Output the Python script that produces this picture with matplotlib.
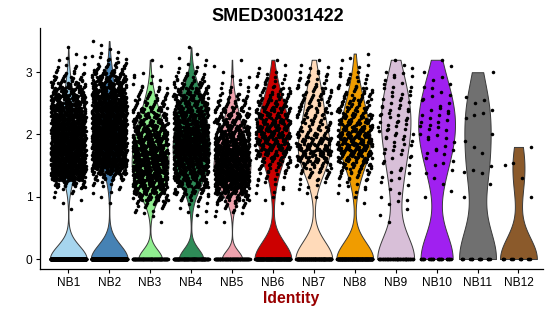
import numpy as np
import matplotlib
matplotlib.use("Agg")
import matplotlib.pyplot as plt

plt.rcParams['font.family'] = ['Liberation Sans', 'DejaVu Sans']

# ---- data ----
title = "SMED30031422"
groups = ["NB1", "NB2", "NB3", "NB4", "NB5", "NB6", "NB7", "NB8", "NB9", "NB10", "NB11", "NB12"]
colors = ["#A6D5EE", "#4682B4", "#90EE90", "#2E8B57", "#EFA2AE", "#CC0000",
          "#FFDAB9", "#F09C00", "#D8BFD8", "#A020F0", "#707070", "#8B5A2B"]
# number of cells with zero expression per group
zero_counts = [780, 715, 110, 130, 100, 200, 160, 200, 55, 27, 15, 12]
# nonzero expression histogram, bin centres 0.5, 0.6, ..., 3.6 (width 0.1)
bin_centers = [round(0.5 + 0.1 * i, 1) for i in range(32)]
hist_NB1 = [0,0,0,1,1,2,5,20,45,62,72,75,72,65,58,55,52,51,49,45,42,39,32,26,16,8,5,3,1,1,0,0]
hist_NB2 = [0,0,0,0,1,1,3,6,16,36,55,65,68,68,65,62,58,57,55,52,51,47,42,38,31,23,13,6,3,2,1,0]
hist_NB3 = [0,1,2,5,13,23,32,39,42,44,45,45,44,42,40,38,34,30,26,21,16,12,8,5,3,2,1,1,0,0,0,0]
hist_NB4 = [0,1,1,3,5,10,20,29,36,40,44,47,49,49,49,47,45,43,39,36,32,29,23,18,12,6,4,2,1,1,0,0]
hist_NB5 = [0,1,2,5,12,23,36,47,53,57,57,55,52,47,42,38,32,27,22,18,13,9,6,4,3,1,1,1,0,0,0,0]
hist_NB6 = [0,0,0,0,1,2,3,4,6,9,13,17,22,26,28,30,30,28,25,21,17,14,11,8,6,4,2,1,0,0,0,0]
hist_NB7 = [0,0,0,0,0,1,2,4,7,12,18,24,27,26,22,18,15,14,13,13,12,11,10,9,7,5,3,1,0,0,0,0]
hist_NB8 = [0,0,0,0,1,2,3,5,8,12,17,22,26,29,30,29,27,24,21,18,15,12,10,8,6,4,3,2,1,0,0,0]
hist_NB9 = [0,1,1,1,2,2,2,2,3,3,3,3,4,4,5,5,6,6,6,5,5,4,4,4,3,3,2,1,0,0,0,0]
hist_NB10 = [0,0,0,0,0,1,1,1,1,2,2,2,3,3,3,3,4,4,4,3,3,3,2,2,2,1,1,1,0,0,0,0]
hist_NB11 = [0,0,0,0,0,1,0,1,0,3,1,0,1,1,1,1,0,0,3,1,2,1,0,0,0,1,0,0,0,0,0,0]
hist_NB12 = [0,0,0,0,0,1,0,0,1,0,2,0,0,1,0,0,0,0,0,0,0,0,0,0,0,0,0,0,0,0,0,0]
hists = [hist_NB1, hist_NB2, hist_NB3, hist_NB4, hist_NB5, hist_NB6,
         hist_NB7, hist_NB8, hist_NB9, hist_NB10, hist_NB11, hist_NB12]
yticks = [0, 1, 2, 3]
xlabel = "Identity"

# ---- helpers ----
G = 1.32471795724474602596
A1, A2 = 1.0 / G, 1.0 / (G * G)

def r2(n, offset=0):
    i = np.arange(n) + offset
    return (0.5 + A1 * i) % 1.0, (0.5 + A2 * i) % 1.0

def expand(hist, n0):
    vals = [np.zeros(n0)]
    for c, k in zip(bin_centers, hist):
        if k == 0:
            continue
        if k == 1:
            vals.append(np.array([c]))
        else:
            _, u = r2(k, offset=int(c * 100))
            vals.append(c - 0.05 + 0.1 * u)
    return np.concatenate(vals)

def nrd0(kde):
    d = np.ravel(kde.dataset)
    n = d.size
    sd = d.std(ddof=1)
    q75, q25 = np.percentile(d, [75, 25])
    iqr = (q75 - q25) / 1.34
    lo = min(sd, iqr) if iqr > 0 else sd
    return 0.9 * lo * n ** -0.2 / sd

data = [expand(h, z) for h, z in zip(hists, zero_counts)]
positions = np.arange(1, len(groups) + 1)

# ---- figure ----
W, H = 550, 316
fig = plt.figure(figsize=(W / 100, H / 100), dpi=100)
ax = fig.add_axes([40 / W, 1 - 269 / H, (543 - 40) / W, (269 - 28) / H])

parts = ax.violinplot(data, positions=positions, widths=0.9, showextrema=False,
                      points=512, bw_method=nrd0)
for body, col in zip(parts['bodies'], colors):
    body.set_facecolor(col)
    body.set_edgecolor('#3a3a3a')
    body.set_linewidth(0.7)
    body.set_alpha(1)
    body.set_zorder(2)

for p, d in zip(positions, data):
    jx, _ = r2(d.size, offset=7)
    xs = p + (jx - 0.5) * 0.86
    ax.scatter(xs, d, s=6.5, c='black', linewidths=0, zorder=3)

ax.set_xlim(0.31, 12.60)
ax.set_ylim(-0.16, 3.71)
ax.set_xticks(positions)
ax.set_xticklabels(groups)
ax.set_yticks(yticks)
ax.set_yticklabels([str(t) for t in yticks])
for s in ['top', 'right']:
    ax.spines[s].set_visible(False)
for s in ['left', 'bottom']:
    ax.spines[s].set_linewidth(0.9)
    ax.spines[s].set_color('black')
ax.tick_params(axis='both', length=3, width=0.8, labelsize=8.6, colors='black', pad=2.5)

fig.text(278 / W, 1 - 20.7 / H, title, ha='center', va='baseline',
         fontsize=13, fontweight='bold')
fig.text(291 / W, 1 - 303 / H, xlabel, ha='center', va='baseline',
         fontsize=11.3, fontweight='bold', color='#990000')

fig.savefig("out.png", dpi=100)
